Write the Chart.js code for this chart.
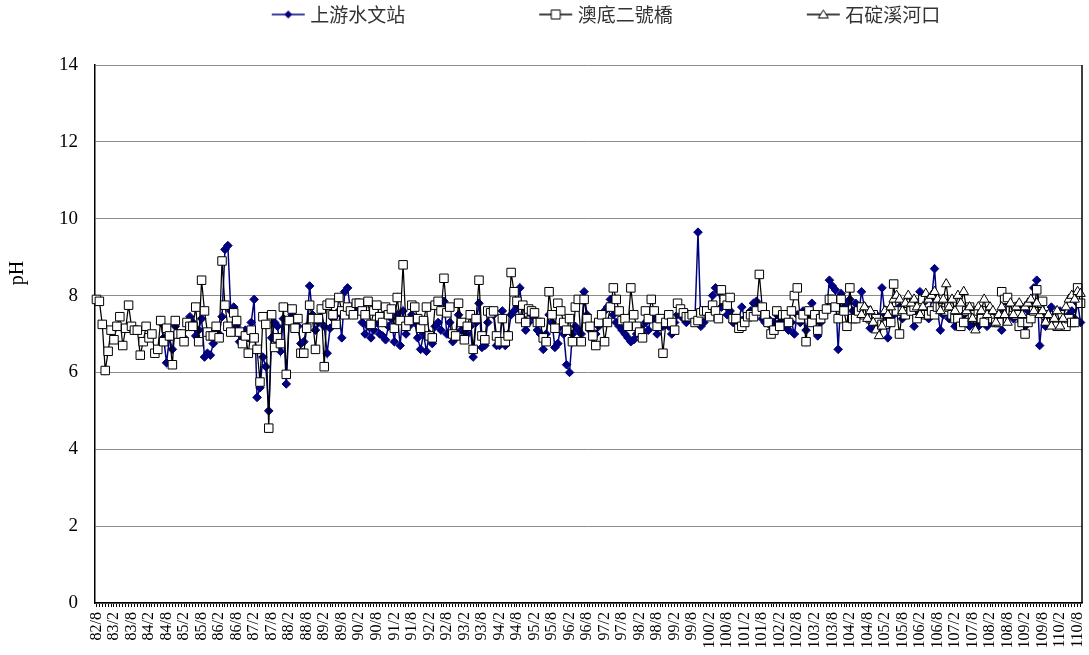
<!DOCTYPE html>
<html lang="zh-Hant">
<head>
<meta charset="utf-8">
<title>pH</title>
<script src="https://cdn.jsdelivr.net/npm/chart.js@4.4.1/dist/chart.umd.min.js"></script>
<style>
  html, body { margin: 0; padding: 0; background: #fff; }
  #wrap { width: 1089px; height: 655px; }
</style>
</head>
<body>
<div id="wrap"><canvas id="phChart" width="1089" height="655"></canvas></div>
<script>
// 月份：82/8 起，每月一筆，至 110/9
const startYear = 82;
const startMonth = 8;
const monthCount = 338;

const tickLabels = [
  '82/8', '83/2', '83/8', '84/2', '84/8', '85/2', '85/8', '86/2', '86/8', '87/2',
  '87/8', '88/2', '88/8', '89/2', '89/8', '90/2', '90/8', '91/2', '91/8', '92/2',
  '92/8', '93/2', '93/8', '94/2', '94/8', '95/2', '95/8', '96/2', '96/8', '97/2',
  '97/8', '98/2', '98/8', '99/2', '99/8', '100/2', '100/8', '101/2', '101/8', '102/2',
  '102/8', '103/2', '103/8', '104/2', '104/8', '105/2', '105/8', '106/2', '106/8', '107/2',
  '107/8', '108/2', '108/8', '109/2', '109/8', '110/2', '110/8'
];

const seriesNames = ['上游水文站', '澳底二號橋', '石碇溪河口'];

// 上游水文站 (84/6 起)
const upstreamStart = '84/6';
const upstreamValues = [
  7.3, 6.9, 6.25, 6.9, 6.6, 7.2, 7.0, 6.95,
  6.9, 7.3, 7.45, 7.3, 6.95, 7.1, 7.4, 6.4, 6.5, 6.45,
  6.75, 7.0, 7.0, 7.45, 9.2, 9.3, 7.6, 7.7, 7.2, 6.8,
  7.0, 7.1, 6.9, 7.3, 7.9, 5.35, 5.6, 6.4, 6.15, 5.0,
  6.9, 7.3, 7.2, 6.55, 7.4, 5.7, 7.35, 7.5, 7.3, 7.2,
  6.75, 6.8, 7.2, 8.25, 7.5, 7.1, 7.3, 7.6, 7.2, 6.5,
  7.15, 7.4, 7.5, 7.6, 6.9, 8.1, 8.2, 7.6, 7.5, 7.6,
  7.7, 7.3, 7.0, 7.2, 6.9, 7.1, 7.3, 7.0, 6.95, 6.85,
  7.2, 7.4, 6.8, 7.5, 6.7, 7.6, 7.0, 7.2, 7.5, 7.3,
  6.9, 6.6, 7.0, 6.55, 7.0, 6.75, 7.2, 7.3, 7.1, 7.85,
  7.0, 7.3, 6.8, 6.9, 7.5, 7.1, 6.9, 7.0, 7.2, 6.4,
  7.3, 7.8, 6.65, 6.7, 7.3, 7.6, 7.5, 6.7, 6.7, 7.6,
  6.7, 7.0, 7.5, 7.6, 7.7, 8.2, 7.4, 7.1, 7.3, 7.5,
  7.4, 7.1, 7.0, 6.6, 7.0, 7.5, 7.3, 6.65, 6.75, 7.2,
  7.0, 6.2, 6.0, 7.0, 7.2, 7.1, 7.0, 8.1, 7.5, 7.1,
  6.9, 7.0, 7.2, 7.3, 7.6, 7.7, 7.9, 7.5, 7.3, 7.2,
  7.1, 7.0, 6.9, 6.8, 6.85, 7.0, 7.2, 7.0, 7.3, 7.1,
  7.5, 7.4, 7.0, 7.3, 7.2, 7.4, 7.2, 7.0, 7.3, 7.5,
  7.5, 7.4, 7.3, 7.5, 7.4, 7.5, 9.65, 7.2, 7.3, 7.5,
  7.6, 8.0, 8.2, 8.1, 7.7, 7.8, 7.5, 7.6, 7.3, 7.3,
  7.4, 7.7, 7.4, 7.5, 7.6, 7.8, 7.85, 7.6, 7.4, 7.3,
  7.4, 7.2, 7.3, 7.5, 7.3, 7.4, 7.2, 7.1, 7.3, 7.0,
  7.5, 7.3, 7.6, 7.1, 7.5, 7.8, 7.3, 6.95, 7.3, 7.5,
  7.6, 8.4, 8.25, 8.15, 6.6, 8.05, 7.7, 7.8, 7.9, 7.6,
  7.8, 7.5, 8.1, 7.7, 7.4, 7.15, 7.3, 7.5, 7.2, 8.2,
  7.5, 6.9, 7.3, 7.5, 7.6, 7.7, 7.4, 7.5, 7.6, 7.8,
  7.2, 7.5, 8.1, 7.8, 7.6, 7.4, 7.9, 8.7, 7.6, 7.1,
  7.5, 7.7, 7.4, 7.6, 7.2, 7.3, 7.2, 7.5, 7.3, 7.2,
  7.3, 7.6, 7.2, 7.5, 7.4, 7.2, 7.6, 7.3, 7.4, 7.5,
  7.1, 7.6, 7.8, 7.5, 7.4, 7.6, 7.7, 7.3, 7.2, 7.6,
  7.8, 8.2, 8.4, 6.7, 7.5, 7.2, 7.3, 7.7, 7.4, 7.2,
  7.6, 7.4, 7.3, 7.5, 7.6, 7.4, 7.8, 7.3
];

// 澳底二號橋 (82/8 起)
const aodiValues = [
  7.9, 7.85, 7.25, 6.05, 6.55, 7.1, 6.85, 7.2, 7.45, 6.7,
  7.15, 7.75, 7.2, 7.1, 7.1, 6.45, 6.8, 7.2, 6.9, 7.0,
  6.5, 6.6, 7.35, 6.8, 7.15, 6.95, 6.2, 7.35, 7.0, 7.0,
  6.8, 7.3, 7.2, 7.2, 7.7, 6.8, 8.4, 7.6, 7.05, 6.95,
  6.95, 7.2, 6.9, 8.9, 7.75, 7.2, 7.05, 7.55, 7.35, 7.05,
  6.75, 6.95, 6.5, 7.1, 6.9, 6.6, 5.75, 7.45, 7.25, 4.55,
  7.5, 6.65, 6.9, 6.75, 7.7, 5.95, 7.35, 7.65, 7.15, 7.4,
  6.5, 6.5, 7.15, 7.75, 7.4, 6.6, 7.4, 7.65, 6.15, 7.75,
  7.8, 7.5, 7.25, 7.95, 7.6, 7.5, 7.7, 7.6, 7.5, 7.8,
  7.8, 7.6, 7.5, 7.85, 7.25, 7.6, 7.75, 7.45, 7.3, 7.7,
  7.5, 7.65, 7.15, 7.95, 7.35, 8.8, 7.2, 7.35, 7.75, 7.7,
  7.4, 7.15, 7.35, 7.7, 6.95, 6.9, 7.75, 7.85, 7.6, 8.45,
  7.55, 7.7, 7.0, 6.95, 7.8, 7.3, 6.85, 7.2, 7.5, 6.6,
  7.4, 8.4, 6.95, 6.85, 7.6, 7.55, 7.6, 6.95, 6.8, 7.4,
  6.8, 6.95, 8.6, 8.1, 7.85, 7.4, 7.75, 7.3, 7.65, 7.6,
  7.55, 7.3, 7.3, 6.9, 6.8, 8.1, 7.5, 7.15, 7.8, 7.6,
  7.3, 7.1, 7.4, 6.8, 7.7, 7.9, 6.8, 7.9, 7.4, 7.2,
  6.95, 6.7, 7.3, 7.5, 6.8, 7.3, 7.7, 8.2, 7.9, 7.6,
  7.35, 7.4, 7.2, 8.2, 7.5, 7.2, 7.05, 6.9, 7.6, 7.4,
  7.9, 7.6, 7.2, 7.4, 6.5, 7.3, 7.5, 7.3, 7.1, 7.8,
  7.65, 7.55, 7.45, 7.45, 7.5, 7.3, 7.35, 7.55, 7.6, 7.6,
  7.45, 7.75, 7.6, 7.4, 8.15, 7.9, 7.75, 7.95, 7.4, 7.4,
  7.15, 7.2, 7.3, 7.45, 7.5, 7.45, 7.6, 8.55, 7.7, 7.5,
  7.3, 7.0, 7.1, 7.6, 7.2, 7.5, 7.5, 7.3, 7.6, 8.0,
  8.2, 7.4, 7.5, 6.8, 7.6, 7.3, 7.5, 7.1, 7.4, 7.5,
  7.65, 7.9, 7.9, 7.7, 7.4, 7.9, 7.6, 7.2, 8.2, 7.4,
  7.4, 7.6, 7.7, 7.5, 7.6, 7.4, 7.5, 7.4, 7.3, 7.25,
  7.25, 7.6, 7.3, 8.3, 7.6, 7.0, 7.6, 7.5, 7.8, 7.6,
  7.7, 7.4, 7.8, 7.9, 7.5, 7.5, 7.6, 7.5, 7.7, 7.7,
  7.9, 7.6, 7.7, 7.5, 7.4, 7.4, 7.2, 7.3, 7.6, 7.7,
  7.5, 7.4, 7.6, 7.4, 7.3, 7.6, 7.5, 7.4, 7.3, 7.3,
  8.1, 7.9, 7.95, 7.6, 7.7, 7.5, 7.2, 7.3, 7.0, 7.3,
  7.4, 7.6, 8.15, 7.8, 7.85, 7.5, 7.4, 7.3, 7.4, 7.2,
  7.5, 7.3, 7.2, 7.4, 7.3, 7.3, 8.2, 7.8
];

// 石碇溪河口 (104/6 起)
const shidingStart = '104/6';
const shidingValues = [
  7.5, 7.7, 7.4, 7.6, 7.3, 7.1, 6.95, 7.2, 7.6, 7.5,
  7.7, 7.9, 8.0, 7.9, 7.6, 7.8, 8.0, 7.8, 7.9, 7.7,
  7.5, 7.7, 8.05, 7.9, 8.0, 8.1, 7.9, 7.6, 7.9, 8.3,
  7.7, 7.9, 7.6, 8.0, 7.8, 8.1, 7.6, 7.7, 7.4, 7.1,
  7.7, 7.6, 7.9, 7.5, 7.7, 7.6, 7.3, 7.5, 7.7, 7.5,
  7.3, 7.8, 7.5, 7.7, 7.8, 7.5, 7.7, 7.8, 7.9, 7.6,
  7.8, 7.5, 7.6, 7.3, 7.5, 7.2, 7.4, 7.6, 7.2, 7.4,
  7.7, 7.9, 8.0, 7.9, 8.1, 8.05
];

const NAVY = '#000080';
const AXIS_FONT = "'Liberation Serif', 'Times New Roman', serif";
const LEGEND_FONT = "'Noto Sans CJK TC', 'Noto Sans CJK SC', sans-serif";
const LEGEND_BOX = 158;

const months = [];
for (let k = 0; k < monthCount; k++) {
  const m = startMonth - 1 + k;
  months.push(`${startYear + Math.floor(m / 12)}/${(m % 12) + 1}`);
}

// 將序列對齊到月份軸上，開始前以 null 補位
function alignSeries(startLabel, values) {
  const offset = months.indexOf(startLabel);
  const out = new Array(offset).fill(null).concat(values);
  return out.slice(0, monthCount);
}

// 圖例符號：線段 + 標記，畫在畫布右端
function makeLegendSymbol(kind) {
  const c = document.createElement('canvas');
  c.width = LEGEND_BOX + 10;
  c.height = 20;
  const g = c.getContext('2d');
  const right = c.width - 1;
  const left = right - 33;
  const cx = (left + right) / 2;
  const cy = 10;
  g.strokeStyle = kind === 'diamond' ? NAVY : '#000';
  g.lineWidth = 1.5;
  g.beginPath();
  g.moveTo(left, cy);
  g.lineTo(right, cy);
  g.stroke();
  g.lineWidth = 1;
  g.beginPath();
  if (kind === 'diamond') {
    g.moveTo(cx, cy - 4); g.lineTo(cx + 4, cy); g.lineTo(cx, cy + 4); g.lineTo(cx - 4, cy);
    g.closePath();
    g.fillStyle = NAVY;
    g.fill();
  } else if (kind === 'square') {
    g.rect(cx - 4.5, cy - 4.5, 9, 9);
    g.fillStyle = '#fff';
    g.fill();
    g.stroke();
  } else {
    g.moveTo(cx, cy - 4.5); g.lineTo(cx + 5, cy + 3.5); g.lineTo(cx - 5, cy + 3.5);
    g.closePath();
    g.fillStyle = '#fff';
    g.fill();
    g.stroke();
  }
  return c;
}

const legendSymbols = [makeLegendSymbol('diamond'), makeLegendSymbol('square'), makeLegendSymbol('triangle')];

const legendSpace = {
  id: 'legendSpace',
  beforeInit(chart) {
    const fit = chart.legend.fit;
    chart.legend.fit = function () {
      fit.call(this);
      this.height = 65;
    };
  }
};

const plotFrame = {
  id: 'plotFrame',
  afterDraw(chart) {
    const { ctx, chartArea } = chart;
    ctx.save();
    ctx.strokeStyle = '#000';
    ctx.lineWidth = 1.5;
    ctx.beginPath();
    ctx.moveTo(chartArea.right, chartArea.top);
    ctx.lineTo(chartArea.right, chartArea.bottom);
    ctx.stroke();
    // y 軸標題
    ctx.translate(18, 273);
    ctx.rotate(-Math.PI / 2);
    ctx.fillStyle = '#000';
    ctx.font = `20px ${AXIS_FONT}`;
    ctx.textAlign = 'center';
    ctx.textBaseline = 'middle';
    ctx.fillText('pH', 0, 0);
    ctx.restore();
  }
};

const tickSet = new Set(tickLabels);

new Chart(document.getElementById('phChart'), {
  type: 'line',
  data: {
    labels: months,
    datasets: [
      {
        label: seriesNames[0],
        data: alignSeries(upstreamStart, upstreamValues),
        borderColor: NAVY,
        backgroundColor: NAVY,
        borderWidth: 1.5,
        pointStyle: 'rectRot',
        pointRadius: 4.3,
        pointBorderWidth: 1,
        pointBackgroundColor: NAVY,
        pointBorderColor: NAVY,
        order: 3
      },
      {
        label: seriesNames[1],
        data: aodiValues,
        borderColor: '#000',
        backgroundColor: '#fff',
        borderWidth: 1.25,
        pointStyle: 'rect',
        pointRadius: 6,
        pointBorderWidth: 1,
        pointBackgroundColor: '#fff',
        pointBorderColor: '#000',
        order: 2
      },
      {
        label: seriesNames[2],
        data: alignSeries(shidingStart, shidingValues),
        borderColor: '#000',
        backgroundColor: '#fff',
        borderWidth: 1.25,
        pointStyle: 'triangle',
        pointRadius: 5.5,
        pointBorderWidth: 1,
        pointBackgroundColor: '#fff',
        pointBorderColor: '#000',
        order: 1
      }
    ]
  },
  options: {
    responsive: false,
    animation: false,
    devicePixelRatio: 1,
    layout: { padding: { left: 0, right: 6, top: 0, bottom: 0 } },
    elements: { line: { tension: 0 } },
    plugins: {
      tooltip: { enabled: false },
      legend: {
        position: 'top',
        align: 'center',
        labels: {
          usePointStyle: true,
          pointStyleWidth: LEGEND_BOX,
          padding: 5,
          color: '#333',
          font: { family: LEGEND_FONT, size: 19 },
          generateLabels: (chart) => chart.data.datasets.map((ds, i) => ({
            text: ds.label,
            pointStyle: legendSymbols[i],
            fillStyle: 'transparent',
            strokeStyle: 'transparent',
            lineWidth: 0,
            fontColor: '#333',
            hidden: false,
            datasetIndex: i
          }))
        }
      }
    },
    scales: {
      x: {
        type: 'category',
        offset: true,
        grid: { drawOnChartArea: false, drawTicks: true, tickLength: 4, color: '#000' },
        border: { color: '#000', width: 1.5 },
        ticks: {
          autoSkip: false,
          minRotation: 90,
          maxRotation: 90,
          padding: 5,
          color: '#000',
          font: { family: AXIS_FONT, size: 16 },
          callback: (value, index) => (tickSet.has(months[index]) ? months[index] : '')
        },
        afterFit: (scale) => {
          scale.height = 52;
          scale.paddingLeft = 0;
          scale.paddingRight = 0;
        }
      },
      y: {
        min: 0,
        max: 14,
        grid: { color: '#8c8c8c', lineWidth: 1, drawTicks: false },
        border: { color: '#000', width: 1.5 },
        ticks: {
          stepSize: 2,
          padding: 17,
          color: '#000',
          font: { family: AXIS_FONT, size: 19 }
        },
        afterFit: (scale) => {
          scale.width = 95;
          scale.paddingTop = 0;
          scale.paddingBottom = 0;
        }
      }
    }
  },
  plugins: [legendSpace, plotFrame]
});
</script>
</body>
</html>
